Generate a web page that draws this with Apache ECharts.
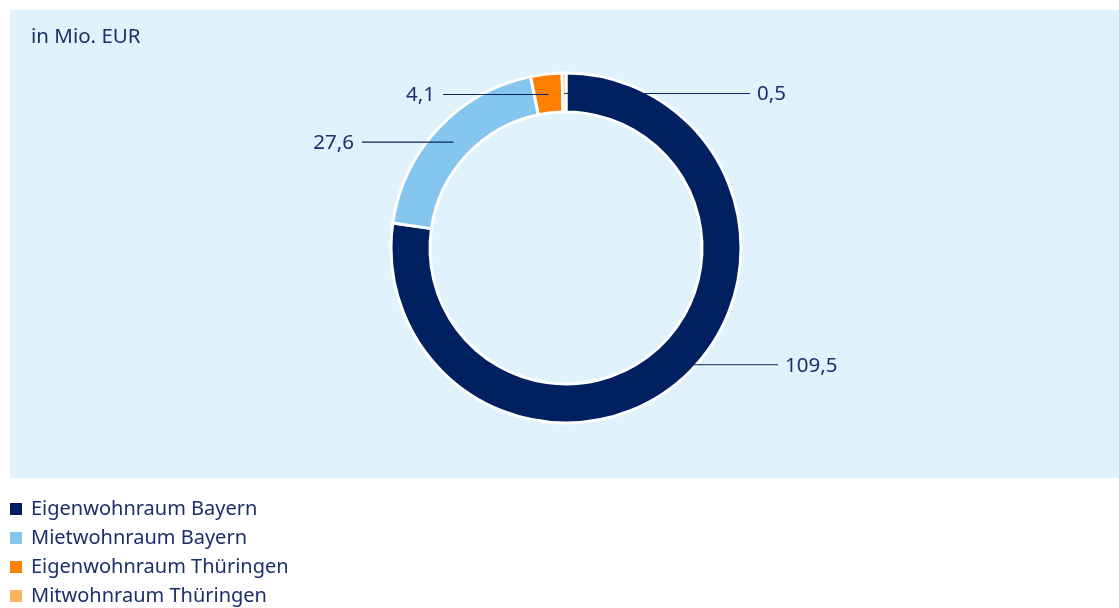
<!DOCTYPE html>
<html>
<head>
<meta charset="utf-8">
<script src="https://cdn.jsdelivr.net/npm/echarts@6/dist/echarts.min.js"></script>
<style>
  html, body { margin: 0; padding: 0; background: #ffffff; }
  #chart { width: 1119px; height: 608px; }
</style>
</head>
<body>
<div id="chart"></div>
<script>
// Förderzusagen nach Programm, in Mio. EUR
const categories = ['Eigenwohnraum Bayern', 'Mietwohnraum Bayern', 'Eigenwohnraum Thüringen', 'Mitwohnraum Thüringen'];
const values = [109.5, 27.6, 4.1, 0.5];
const colors = ['#002060', '#85c6ef', '#ff7f00', '#fbb45e'];
const unitLabel = 'in Mio. EUR';

const FONT = '"Noto Sans", "Open Sans", sans-serif';
const TEXT = '#1b2f6b';
const CX = 566, CY = 248, R0 = 136, R1 = 175;
// horizontal end of each label's leader line
const leaderEndX = [778, 362, 443, 750];

const total = values.reduce((a, b) => a + b, 0);
const fmt = v => v.toFixed(1).replace('.', ',');

const pieData = categories.map((name, i) => ({ name: name, value: values[i] }));

const chart = echarts.init(document.getElementById('chart'));
chart.setOption({
  animation: false,
  backgroundColor: '#ffffff',
  color: colors,
  graphic: [
    { type: 'rect', z: -10, silent: true,
      shape: { x: 10, y: 10, width: 1109, height: 468 },
      style: { fill: '#e0f2fc' } },
    { type: 'text', left: 31, top: 27, silent: true,
      style: { text: unitLabel, fill: TEXT, font: '20.5px ' + FONT } }
  ],
  legend: {
    orient: 'vertical',
    left: 10,
    top: 499,
    padding: 0,
    itemWidth: 12,
    itemHeight: 12,
    itemGap: 9,
    icon: 'rect',
    selectedMode: false,
    itemStyle: { borderWidth: 0 },
    textStyle: { color: TEXT, fontSize: 20, fontFamily: FONT, lineHeight: 20, padding: [0, 0, 0, 4] },
    data: categories.map((name, i) => ({ name: name, itemStyle: { color: colors[i], borderWidth: 0 } }))
  },
  series: [
    {
      // ring segments
      type: 'pie',
      z: 2,
      center: [CX, CY],
      radius: [R0, R1],
      startAngle: 90,
      clockwise: true,
      silent: true,
      itemStyle: { borderColor: '#ffffff', borderWidth: 3 },
      label: { show: false },
      labelLine: { show: false },
      data: pieData
    },
    {
      // value labels with horizontal leader lines, drawn above the ring
      type: 'pie',
      z: 3,
      center: [CX, CY],
      radius: [R0, R1],
      startAngle: 90,
      clockwise: true,
      silent: true,
      itemStyle: { color: 'rgba(0,0,0,0)', borderWidth: 0 },
      label: {
        show: true,
        color: TEXT,
        fontSize: 20.5,
        fontFamily: FONT,
        formatter: p => fmt(p.value)
      },
      labelLine: { show: true, lineStyle: { color: '#0a255f', width: 1.2 } },
      labelLayout: function (params) {
        const i = params.dataIndex;
        let cum = 0;
        for (let k = 0; k < i; k++) cum += values[k];
        const mid = (cum + values[i] / 2) / total * Math.PI * 2;
        const rMid = (R0 + R1) / 2 - 1;
        const x0 = CX + rMid * Math.sin(mid);
        const y0 = CY - rMid * Math.cos(mid);
        const ex = leaderEndX[i];
        const right = ex > x0;
        return {
          x: right ? ex + 7 : ex - 8,
          y: y0 + 1,
          align: right ? 'left' : 'right',
          verticalAlign: 'middle',
          labelLinePoints: [[x0, y0], [ex, y0], [ex, y0]]
        };
      },
      data: pieData
    }
  ]
});
</script>
</body>
</html>
